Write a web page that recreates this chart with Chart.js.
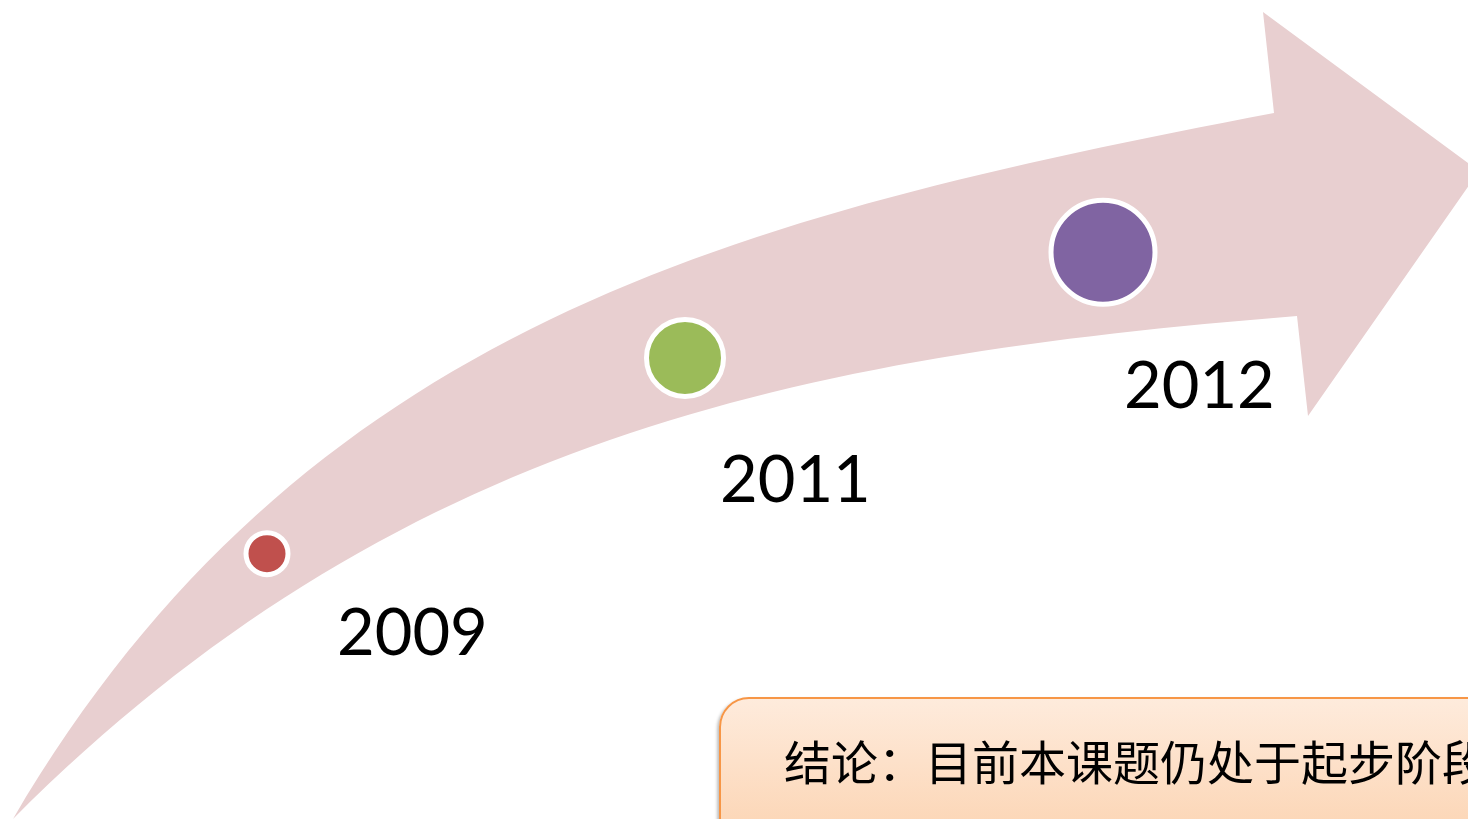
<!DOCTYPE html>
<html lang="zh">
<head>
<meta charset="utf-8">
<title>课题进展</title>
<script src="https://cdn.jsdelivr.net/npm/chart.js@4/dist/chart.umd.min.js"></script>
<style>
    html, body { margin: 0; padding: 0; background: #ffffff; overflow: hidden; }
    #lienzo { position: relative; width: 1468px; height: 819px; overflow: hidden; }
    #lienzo canvas { position: absolute; left: 0; top: 0; }
    #conclusion {
        position: absolute;
        left: 719px;
        top: 697px;
        width: 900px;
        height: 220px;
        box-sizing: border-box;
        border: 2px solid #f79646;
        border-radius: 30px;
        background: linear-gradient(to bottom, #feebdc 0%, #fcd6b6 60%, #fbcba4 100%);
        box-shadow: -2px 2px 3px rgba(0, 0, 0, 0.25);
        padding-left: 63px;
        padding-top: 37px;
        font-family: "Noto Sans CJK SC", sans-serif;
        font-size: 47px;
        line-height: 47px;
        color: #000000;
        white-space: nowrap;
    }
</style>
</head>
<body>
<div id="lienzo">
    <canvas id="progresoChart" width="1468" height="819"></canvas>
    <div id="conclusion">结论：目前本课题仍处于起步阶段</div>
</div>
<script>
// Datos del gráfico
const anios = ["2009", "2011", "2012"];
const avance = [32.4, 56.3, 69.2];      // altura de cada punto (escala 0-100)
const tamanio = [21, 38.5, 52];         // radio de cada burbuja
const colores = ["#c0504d", "#9bbb59", "#8064a2"];

document.addEventListener("DOMContentLoaded", function () {
    const ctx = document.getElementById("progresoChart").getContext("2d");

    // Flecha curva de fondo (decoración, en píxeles del lienzo)
    const cola = [13, 819];
    const superior = [[303, 326], [734, 216], [1274, 113]];   // curva de arriba
    const punta = [[1263, 12], [1479, 171], [1308, 416], [1297, 316]];
    const inferior = [[797, 356], [393, 439], cola];            // curva de abajo (de vuelta)

    const flecha = {
        id: "flecha",
        beforeDatasetsDraw(chart) {
            const c = chart.ctx;
            c.save();
            c.fillStyle = "#e8cfd0";
            c.beginPath();
            c.moveTo(cola[0], cola[1]);
            c.bezierCurveTo(superior[0][0], superior[0][1], superior[1][0], superior[1][1], superior[2][0], superior[2][1]);
            punta.forEach(p => c.lineTo(p[0], p[1]));
            c.bezierCurveTo(inferior[0][0], inferior[0][1], inferior[1][0], inferior[1][1], inferior[2][0], inferior[2][1]);
            c.closePath();
            c.fill();
            c.restore();
        }
    };

    // Etiquetas de año debajo de cada burbuja
    const desplazX = [70, 35, 21];
    const desplazY = [101, 144, 156];
    const etiquetas = {
        id: "etiquetas",
        afterDatasetsDraw(chart) {
            const c = chart.ctx;
            const puntos = chart.getDatasetMeta(0).data;
            c.save();
            c.fillStyle = "#000000";
            c.font = "65px Lato, 'Open Sans', sans-serif";
            c.textAlign = "left";
            c.textBaseline = "alphabetic";
            puntos.forEach((p, i) => {
                c.fillText(anios[i], p.x + desplazX[i], p.y + desplazY[i]);
            });
            c.restore();
        }
    };

    new Chart(ctx, {
        type: "bubble",
        data: {
            labels: anios,
            datasets: [{
                label: "进展",
                data: anios.map((a, i) => ({ x: a, y: avance[i], r: tamanio[i] })),
                backgroundColor: colores,
                borderColor: "#ffffff",
                borderWidth: 5
            }]
        },
        options: {
            responsive: false,
            animation: false,
            events: [],
            layout: { autoPadding: false, padding: { left: 58, right: 156, top: 0, bottom: 0 } },
            plugins: {
                legend: { display: false },
                tooltip: { enabled: false }
            },
            scales: {
                x: { type: "category", labels: anios, offset: true, display: false },
                y: { min: 0, max: 100, display: false }
            }
        },
        plugins: [flecha, etiquetas]
    });
});
</script>
</body>
</html>
